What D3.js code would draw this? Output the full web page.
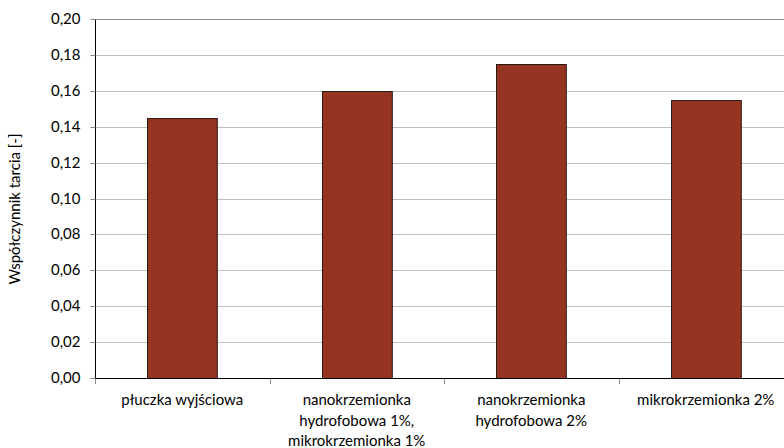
<!DOCTYPE html>
<html>
<head>
<meta charset="utf-8">
<script src="https://cdn.jsdelivr.net/npm/d3@7"></script>
<style>
  html, body { margin: 0; padding: 0; background: #fff; }
  svg { display: block; font-family: Lato, "Open Sans", sans-serif; }
</style>
</head>
<body>
<svg id="chart" width="784" height="448"></svg>
<script>
// Friction coefficient for each drilling-fluid variant
const categories = [
  ["płuczka wyjściowa"],
  ["nanokrzemionka", "hydrofobowa 1%,", "mikrokrzemionka 1%"],
  ["nanokrzemionka", "hydrofobowa 2%"],
  ["mikrokrzemionka 2%"]
];
const values = [0.145, 0.160, 0.175, 0.155];
const yTicks = [0, 0.02, 0.04, 0.06, 0.08, 0.10, 0.12, 0.14, 0.16, 0.18, 0.20];
const yTitle = "Współczynnik tarcia [-]";

const svg = d3.select("#chart");
const plotLeft = 95, plotTop = 19, plotBottom = 378, plotRight = 793;
const fontSize = 15;

const x = d3.scaleBand()
  .domain(d3.range(categories.length))
  .range([plotLeft, plotRight])
  .paddingInner(0.6)
  .paddingOuter(0.3);
const band = d3.scaleBand().domain(d3.range(categories.length)).range([plotLeft, plotRight]);
const y = d3.scaleLinear().domain([0, 0.20]).range([plotBottom, plotTop]);

const fmt = v => v.toFixed(2).replace(".", ",");

// horizontal gridlines
svg.append("g").selectAll("line")
  .data(yTicks.filter(t => t > 0))
  .join("line")
  .attr("x1", plotLeft).attr("x2", plotRight)
  .attr("y1", d => Math.round(y(d)) + 0.5).attr("y2", d => Math.round(y(d)) + 0.5)
  .attr("stroke", d => d === 0.20 ? "#8c8c8c" : "#c0c0c0")
  .attr("stroke-width", 1);

// bars
svg.append("g").selectAll("rect")
  .data(values)
  .join("rect")
  .attr("x", (d, i) => Math.round(x(i)) + 0.5)
  .attr("y", d => Math.round(y(d)) + 0.5)
  .attr("width", x.bandwidth())
  .attr("height", d => Math.round(y(0)) - Math.round(y(d)))
  .attr("fill", "#943421")
  .attr("stroke", "#2b1a14")
  .attr("stroke-width", 1);

// y axis
const yAxis = d3.axisLeft(y).tickValues(yTicks).tickFormat(fmt).tickSize(5).tickPadding(10);
const gy = svg.append("g").attr("transform", `translate(${plotLeft + 0.5},0.5)`).call(yAxis);
gy.select(".domain").attr("stroke", "#000").attr("d", `M0,${Math.round(y(0.2))}V${Math.round(y(0))}`);
gy.selectAll(".tick line").attr("stroke", "#888");
gy.selectAll(".tick text").attr("font-size", fontSize).attr("fill", "#000")
  .attr("font-family", "Lato, sans-serif");
gy.selectAll(".tick").attr("transform", d => `translate(0,${Math.round(y(d))})`);

// x axis baseline and category ticks
const gx = svg.append("g");
gx.append("line")
  .attr("x1", plotLeft).attr("x2", plotRight)
  .attr("y1", Math.round(y(0)) + 0.5).attr("y2", Math.round(y(0)) + 0.5)
  .attr("stroke", "#000");
gx.selectAll("line.tk")
  .data(d3.range(categories.length + 1))
  .join("line")
  .attr("class", "tk")
  .attr("x1", i => Math.round(plotLeft + i * band.step()) + 0.5)
  .attr("x2", i => Math.round(plotLeft + i * band.step()) + 0.5)
  .attr("y1", Math.round(y(0)) + 0.5)
  .attr("y2", Math.round(y(0)) + 6)
  .attr("stroke", "#888");

// category labels
gx.selectAll("text.cat")
  .data(categories)
  .join("text")
  .attr("class", "cat")
  .attr("x", (d, i) => band(i) + band.bandwidth() / 2)
  .attr("y", 405)
  .attr("text-anchor", "middle")
  .attr("font-size", fontSize)
  .attr("fill", "#000")
  .each(function(lines) {
    const cx = d3.select(this).attr("x");
    d3.select(this).selectAll("tspan")
      .data(lines)
      .join("tspan")
      .attr("x", cx)
      .attr("dy", (l, j) => j === 0 ? 0 : 20.5)
      .text(l => l);
  });

// y axis title
svg.append("text")
  .attr("transform", `translate(20,209) rotate(-90)`)
  .attr("text-anchor", "middle")
  .attr("font-size", fontSize)
  .attr("fill", "#000")
  .text(yTitle);
</script>
</body>
</html>
